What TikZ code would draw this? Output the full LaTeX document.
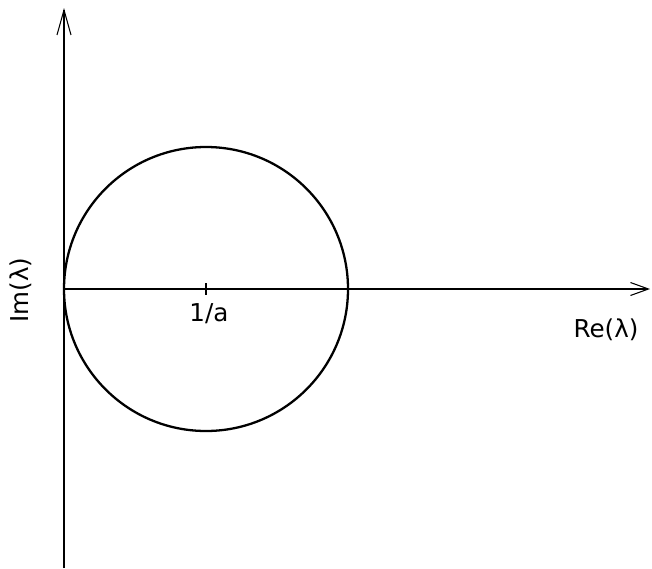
\documentclass[tikz,border=0pt]{standalone}
\usepackage{fontspec}
\setmainfont{DejaVu Sans}
\usetikzlibrary{arrows.meta}
\tikzset{
  axis/.style={line width=0.6pt},
  axisup/.style={axis,-{Straight Barb[length=0.5cm,width=0.28cm,line width=0.6pt]}},
  axisright/.style={axis,-{Straight Barb[length=0.36cm,width=0.26cm,line width=0.6pt]}},
  lbl/.style={font=\fontsize{14}{16}\selectfont,inner sep=0pt},
}
\begin{document}
\begin{tikzpicture}[x=0.02cm,y=-0.02cm]
  \useasboundingbox (0,0) rectangle (652,568);
  % axes
  \coordinate (o) at (64,289);
  \coordinate (ybot) at (64,568);
  \coordinate (ytop) at (64,8);
  \coordinate (xend) at (650,289);
  \draw[axisup] (ybot) -- (ytop);
  \draw[axisright] (o) -- (xend);

  % circle
  \coordinate (c) at (206,289);
  \draw[line width=1.3pt] (c) circle[radius=142];

  % tick at 1/a
  \draw[axis] (206,283) -- (206,295);
  \node[lbl] (inva) at (209,314) {1/a};

  % labels
  \node[lbl] (re) at (606,330) {Re(λ)};
  \node[lbl,rotate=90] (im) at (21,290) {Im(λ)};
\end{tikzpicture}
\end{document}
